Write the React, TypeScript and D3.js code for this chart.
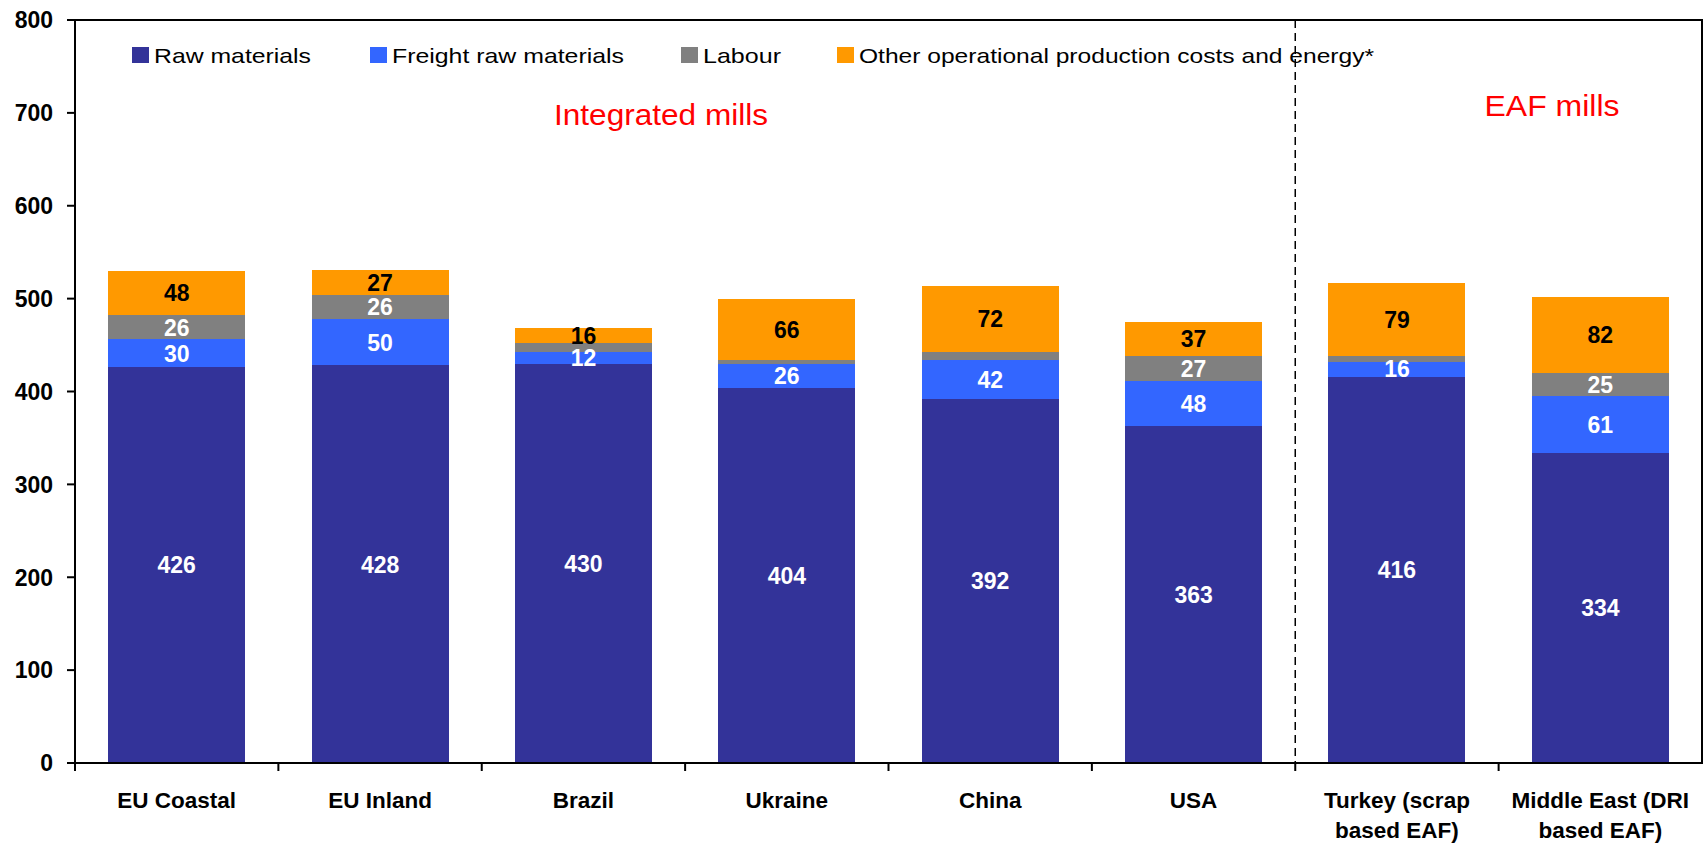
import { useRef, useEffect } from 'react';
import * as d3 from "d3";

const categories = ["EU Coastal", "EU Inland", "Brazil", "Ukraine", "China", "USA", "Turkey (scrap|based EAF)", "Middle East (DRI|based EAF)"];
const seriesNames = ["Raw materials", "Freight raw materials", "Labour", "Other operational production costs and energy*"];
const rawMaterials = [426, 428, 430, 404, 392, 363, 416, 334];
const freight = [30, 50, 12, 26, 42, 48, 16, 61];
const labour = [26, 26, 10, 4, 8, 27, 6, 25];
const other = [48, 27, 16, 66, 72, 37, 79, 82];
const yTicks = [0, 100, 200, 300, 400, 500, 600, 700, 800];

const colors = ["#333399", "#3366FF", "#808080", "#FF9900"];
const labelColors = ["#fff", "#fff", "#fff", "#000"];
const font = "'Liberation Sans', Arial, sans-serif";

const W = 1704, H = 844;
const left = 75, right = 1702, top = 20, bottom = 763;

const App = () => {
  const ref = useRef<SVGSVGElement>(null);

  useEffect(() => {
    const svg = d3.select(ref.current);
    svg.selectAll("*").remove();

    const rows = categories.map((c, i) => ({
      cat: c, s0: rawMaterials[i], s1: freight[i], s2: labour[i], s3: other[i]
    }));
    const keys = ["s0", "s1", "s2", "s3"];
    const stacked = d3.stack<any>().keys(keys)(rows);

    const x = d3.scaleBand().domain(categories).range([left, right]).paddingInner(0.326).paddingOuter(0.163);
    const y = d3.scaleLinear().domain([0, 800]).range([bottom, top]);
    const step = x.step();

    // bars
    stacked.forEach((layer, li) => {
      svg.append("g").attr("shape-rendering", "crispEdges").selectAll("rect").data(layer).enter().append("rect")
        .attr("x", d => x(d.data.cat)!)
        .attr("width", x.bandwidth())
        .attr("y", d => y(d[1]))
        .attr("height", d => y(d[0]) - y(d[1]))
        .attr("fill", colors[li]);
    });

    // value labels (small labour slices are left unlabelled)
    stacked.forEach((layer, li) => {
      svg.append("g").selectAll("text").data(layer.filter(d => (d[1] - d[0]) >= 12)).enter().append("text")
        .attr("x", d => x(d.data.cat)! + x.bandwidth() / 2)
        .attr("y", d => y((d[0] + d[1]) / 2))
        .attr("dy", "0.36em")
        .attr("text-anchor", "middle")
        .attr("fill", labelColors[li])
        .style("font", `bold 23px ${font}`)
        .text(d => d[1] - d[0]);
    });

    // frame
    svg.append("rect").attr("x", left).attr("y", top).attr("width", right - left).attr("height", bottom - top)
      .attr("fill", "none").attr("stroke", "#000").attr("stroke-width", 2);

    // y axis ticks
    const yg = svg.append("g");
    yTicks.forEach(t => {
      yg.append("line").attr("x1", left - 8).attr("x2", left).attr("y1", y(t)).attr("y2", y(t))
        .attr("stroke", "#000").attr("stroke-width", 2);
      yg.append("text").attr("x", 53).attr("y", y(t)).attr("dy", "0.36em").attr("text-anchor", "end")
        .style("font", `bold 23px ${font}`).text(t);
    });

    // x axis ticks at category boundaries
    const xg = svg.append("g");
    categories.forEach((c) => {
      const bx = x(c)! - (step - x.bandwidth()) / 2;
      xg.append("line").attr("x1", bx).attr("x2", bx).attr("y1", bottom).attr("y2", bottom + 8)
        .attr("stroke", "#000").attr("stroke-width", 2);
      const lines = c.split("|");
      const t = xg.append("text").attr("text-anchor", "middle").style("font", `bold 22.5px ${font}`);
      lines.forEach((ln, k) => {
        t.append("tspan").attr("x", x(c)! + x.bandwidth() / 2).attr("y", 808 + k * 30).text(ln);
      });
    });

    // divider between integrated and EAF mills
    const divX = x(categories[6])! - (step - x.bandwidth()) / 2;
    svg.append("line").attr("x1", divX).attr("x2", divX).attr("y1", top).attr("y2", bottom)
      .attr("stroke", "#000").attr("stroke-width", 1.5).attr("stroke-dasharray", "8,5");

    // group titles
    svg.append("text").attr("x", 661).attr("y", 125).attr("text-anchor", "middle").attr("fill", "#FF0000")
      .attr("textLength", 214).attr("lengthAdjust", "spacingAndGlyphs")
      .style("font", `30px ${font}`).text("Integrated mills");
    svg.append("text").attr("x", 1552).attr("y", 116).attr("text-anchor", "middle").attr("fill", "#FF0000")
      .attr("textLength", 135).attr("lengthAdjust", "spacingAndGlyphs")
      .style("font", `30px ${font}`).text("EAF mills");

    // legend
    const legX = [132, 370, 681, 837];
    const legW = [157, 232, 78, 515];
    const lg = svg.append("g");
    seriesNames.forEach((n, i) => {
      lg.append("rect").attr("x", legX[i]).attr("y", 47).attr("width", 17).attr("height", 16).attr("fill", colors[i]);
      lg.append("text").attr("x", legX[i] + 22).attr("y", 63)
        .attr("textLength", legW[i]).attr("lengthAdjust", "spacingAndGlyphs")
        .style("font", `21px ${font}`).text(n);
    });
  }, []);

  return <svg ref={ref} width={W} height={H} style={{ position: "absolute", left: 0, top: 0, background: "#fff" }} />;
};

export default App;
